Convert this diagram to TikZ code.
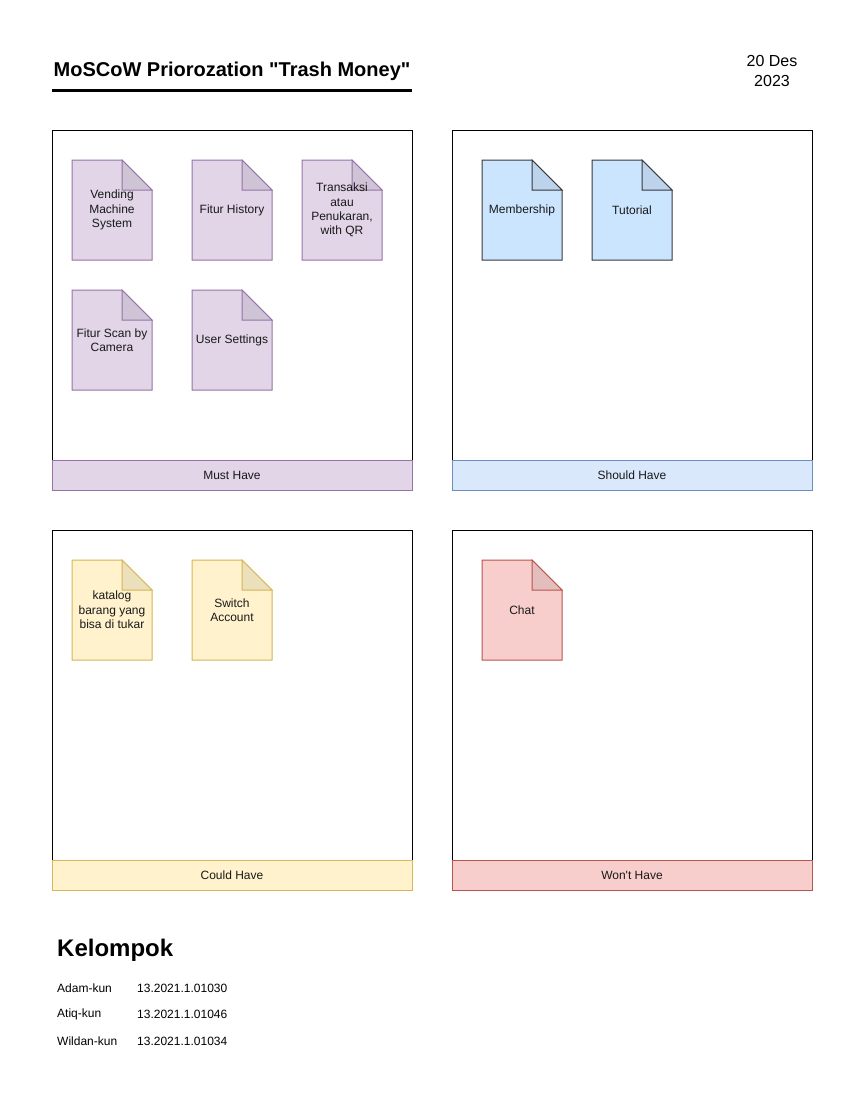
\documentclass[tikz,border=0pt]{standalone}
\usepackage{fontspec}
\setmainfont{Liberation Sans}[Ligatures=TeXOff]
\begin{document}
\begin{tikzpicture}[x=1pt,y=-1pt,
  frame/.style={draw=black,line width=1pt,fill=white},
  label/.style={line width=1pt,minimum width=360pt,minimum height=30pt,inner sep=0pt,font=\fontsize{12}{14}\selectfont,text=black!90},
  notebox/.style={minimum width=80pt,minimum height=100pt,inner sep=0pt,align=center,font=\fontsize{12}{14.4}\selectfont,text=black!90},
  plain/.style={inner sep=0pt,font=\fontsize{12}{14}\selectfont,anchor=west}]
\useasboundingbox (0,0) rectangle (863,1100);
\fill[white] (0,0) rectangle (863,1100);

\newcommand{\mynote}[6]{%
  \filldraw[fill=#4,draw=#5,line width=1pt,line join=miter]
    (#2,#3) -- (#2+50,#3) -- (#2+80,#3+30) -- (#2+80,#3+100) -- (#2,#3+100) -- cycle;
  \filldraw[fill=#4!92!black,draw=#5,line width=1pt]
    (#2+50,#3) -- (#2+50,#3+30) -- (#2+80,#3+30) -- cycle;
  \node[notebox] (#1) at (#2+40,#3+50) {#6};
}

% title
\node[inner sep=0pt,font=\fontsize{20}{24}\bfseries\selectfont] (title) at (232,71) {MoSCoW Priorozation "Trash Money"};
\coordinate (ul1) at (52,90);
\coordinate (ul2) at (412,90);
\draw[line width=3pt] (ul1) -- (ul2);
\node[inner sep=0pt,align=center,font=\fontsize{16}{20}\selectfont] (date) at (772,71) {20 Des\\2023};

% frames
\node[frame,minimum width=360pt,minimum height=330pt,inner sep=0pt] (must) at (232,295) {};
\node[frame,minimum width=360pt,minimum height=330pt,inner sep=0pt] (should) at (632,295) {};
\node[frame,minimum width=360pt,minimum height=330pt,inner sep=0pt] (could) at (232,695) {};
\node[frame,minimum width=360pt,minimum height=330pt,inner sep=0pt] (wont) at (632,695) {};

\node[label,fill={rgb,255:red,225;green,213;blue,231},draw={rgb,255:red,150;green,115;blue,166}] (mustl) at (232,475) {Must Have};
\node[label,fill={rgb,255:red,218;green,232;blue,252},draw={rgb,255:red,108;green,142;blue,191}] (shouldl) at (632,475) {Should Have};
\node[label,fill={rgb,255:red,255;green,242;blue,204},draw={rgb,255:red,214;green,182;blue,86}] (couldl) at (232,875) {Could Have};
\node[label,fill={rgb,255:red,248;green,206;blue,204},draw={rgb,255:red,184;green,84;blue,80}] (wontl) at (632,875) {Won't Have};

\definecolor{pf}{RGB}{225,213,231}\definecolor{ps}{RGB}{150,115,166}
\definecolor{bf}{RGB}{204,229,255}\definecolor{bs}{RGB}{54,57,61}
\definecolor{yf}{RGB}{255,242,204}\definecolor{ys}{RGB}{214,182,86}
\definecolor{rf}{RGB}{248,206,204}\definecolor{rs}{RGB}{184,84,80}

\mynote{n1}{72}{160}{pf}{ps}{Vending\\Machine\\System}
\mynote{n2}{192}{160}{pf}{ps}{Fitur History}
\mynote{n3}{302}{160}{pf}{ps}{Transaksi\\atau\\Penukaran,\\with QR}
\mynote{n4}{72}{290}{pf}{ps}{Fitur Scan by\\Camera}
\mynote{n5}{192}{290}{pf}{ps}{User Settings}
\mynote{n6}{482}{160}{bf}{bs}{Membership}
\mynote{n7}{592}{160}{bf}{bs}{Tutorial}
\mynote{n8}{72}{560}{yf}{ys}{katalog\\barang yang\\bisa di tukar}
\mynote{n9}{192}{560}{yf}{ys}{Switch\\Account}
\mynote{n10}{482}{560}{rf}{rs}{Chat}

% group
\node[inner sep=0pt,anchor=west,font=\fontsize{24}{28}\bfseries\selectfont] (kel) at (57,950) {Kelompok};
\node[plain] (a1) at (57,988) {Adam-kun};
\node[plain] (a2) at (137,988) {13.2021.1.01030};
\node[plain] (b1) at (57,1014) {Atiq-kun};
\node[plain] (b2) at (137,1014) {13.2021.1.01046};
\node[plain] (c1) at (57,1041) {Wildan-kun};
\node[plain] (c2) at (137,1041) {13.2021.1.01034};
\end{tikzpicture}
\end{document}
